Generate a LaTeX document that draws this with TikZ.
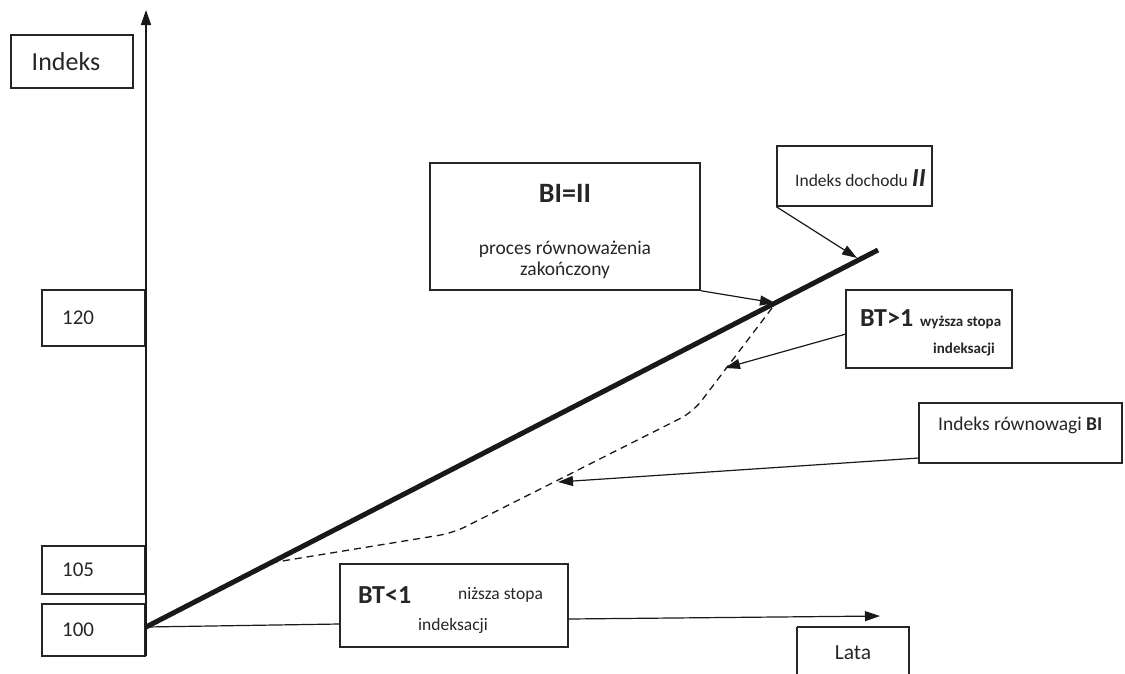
\documentclass[tikz,border=0pt]{standalone}
\usepackage{fontspec}
\setmainfont{Carlito}
\usetikzlibrary{arrows.meta}
\begin{document}
\begin{tikzpicture}[x=1pt,y=-1pt,
  box/.style={draw=black!85,line width=1.4pt,inner sep=0pt},
  conn/.style={draw=black!90,line width=1.2pt,-{Triangle[length=15pt,width=10pt]}},
  lbl/.style={inner sep=0pt,anchor=west,text=black!85},
  ctr/.style={inner sep=0pt,text=black!85},
  f/.style={font=\fontsize{19.5}{22}\selectfont},
  fs/.style={font=\fontsize{17.5}{20}\selectfont},
  fnum/.style={font=\fontsize{21}{24}\selectfont},
  fbig/.style={font=\fontsize{26}{30}\selectfont\bfseries},
  fbold/.style={font=\fontsize{15}{18}\selectfont\bfseries}]
\useasboundingbox (0,0) rectangle (1125,673);
% boxes
\draw[box] (11,35) rectangle (133,88);
\node[ctr,font=\fontsize{26}{30}\selectfont] (tind) at (66,62) {Indeks};
\draw[box] (42,290) rectangle (145,346);
\node[lbl,fnum] (t120) at (62,318) {120};
\draw[box] (42,546) rectangle (145,594);
\node[lbl,fnum] (t105) at (62,570) {105};
\draw[box] (42,604) rectangle (145,656);
\node[lbl,fnum] (t100) at (62,630) {100};
% axes
\coordinate (O) at (146,627);
\coordinate (ytop) at (146,10);
\coordinate (bot) at (146,656);
\draw[line width=1.4pt,black!90,-{Triangle[length=15pt,width=10pt]}] (bot) -- (ytop);
% BT<1 box
\node[box,minimum width=228pt,minimum height=83pt] (btl) at (454,605.5) {};
\node[lbl,fbig] at (358,595) {BT<1};
\node[lbl,fs] at (458,595) {niższa stopa};
\node[lbl,fs] at (418,626) {indeksacji};
\draw[line width=1.2pt,black!90] (O) -- (btl.west |- 0,624);
\coordinate (xend) at (880,616);
\draw[conn] (btl.east |- 0,619) -- (xend);
% Lata
\draw[box] (797,627) -- (797,690) (797,627) -- (909,627) -- (909,690);
\node[ctr,font=\fontsize{21.5}{24}\selectfont] (lata) at (853,653) {Lata};
% thick line
\coordinate (II) at (878,250);
\draw[line width=5pt,black!90] (O) -- (II);
% dashed BI
\coordinate (d1) at (772,308);
\coordinate (d2) at (693,412);
\coordinate (d3) at (453,533);
\coordinate (d4) at (270,563);
\coordinate (pBT) at (725,368);
\coordinate (pBI) at (558,482);
\draw[line width=1.3pt,black!90,dash pattern=on 7pt off 5pt,rounded corners=14pt] (d1) -- (d2) -- (d3) -- (d4);
% BI=II box
\node[box,minimum width=270pt,minimum height=127pt] (bii) at (565,226.5) {};
\node[ctr,font=\fontsize{28}{32}\selectfont\bfseries] at (565,193) {BI=II};
\node[ctr,f,align=center] at (565,259.5) {proces równoważenia\\[-1pt]zakończony};
\coordinate (pII) at (775,303);
\draw[conn] (bii.south east) -- (pII);
% Indeks dochodu
\node[box,minimum width=155pt,minimum height=60pt] (idoch) at (854.5,176) {};
\node[lbl,font=\fontsize{17.5}{20}\selectfont] at (795,178) {Indeks dochodu \fontsize{26}{28}\selectfont\bfseries\itshape II};
\coordinate (pI2) at (857,258);
\draw[conn] (idoch.south west) -- (pI2);
% BT>1 box
\node[box,minimum width=166pt,minimum height=78pt] (bth) at (929,329) {};
\node[lbl,fbig] at (860,318) {BT>1};
\node[lbl,fbold] at (920,322) {wyższa stopa};
\node[lbl,fbold] at (933,349) {indeksacji};
\draw[conn] (846,334) -- (pBT);
% Indeks równowagi
\node[box,minimum width=203pt,minimum height=60pt] (bi) at (1020.5,433) {};
\node[lbl,f] at (938,425) {Indeks równowagi \textbf{BI}};
\draw[conn] (919,458) -- (pBI);
\end{tikzpicture}
\end{document}
